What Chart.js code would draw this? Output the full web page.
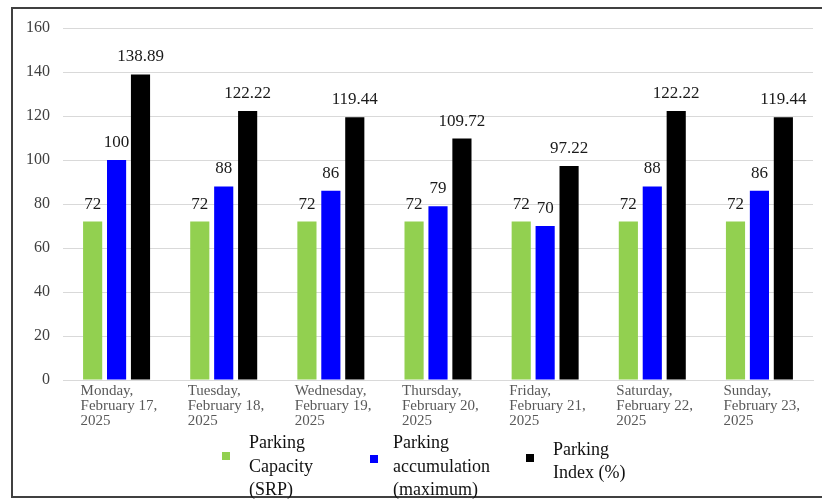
<!DOCTYPE html>
<html><head><meta charset="utf-8">
<script src="https://cdn.jsdelivr.net/npm/chart.js@4"></script>
<style>html,body{margin:0;padding:0;background:#fff}#wrap{width:822px;height:503px;position:relative}</style>
</head><body><div id="wrap"><canvas id="c" width="822" height="503"></canvas></div>
<script>
const days = [
  ["Monday,", "February 17,", "2025"],
  ["Tuesday,", "February 18,", "2025"],
  ["Wednesday,", "February 19,", "2025"],
  ["Thursday,", "February 20,", "2025"],
  ["Friday,", "February 21,", "2025"],
  ["Saturday,", "February 22,", "2025"],
  ["Sunday,", "February 23,", "2025"]
];
const seriesNames = [
  ["Parking", "Capacity", "(SRP)"],
  ["Parking", "accumulation", "(maximum)"],
  ["Parking", "Index (%)"]
];
const parkingCapacity = [72, 72, 72, 72, 72, 72, 72];
const parkingAccumulation = [100, 88, 86, 79, 70, 88, 86];
const parkingIndex = [138.89, 122.22, 119.44, 109.72, 97.22, 122.22, 119.44];
const yMin = 0, yMax = 160, yStep = 20;
const colors = ["#92D050", "#0000FF", "#000000"];

const SERIF = '"Liberation Serif", "Times New Roman", serif';

const framePlugin = {
  id: 'frame',
  beforeDraw(chart) {
    const ctx = chart.ctx;
    ctx.save();
    ctx.fillStyle = '#fff';
    ctx.fillRect(0, 0, chart.width, chart.height);
    ctx.strokeStyle = '#404040';
    ctx.lineWidth = 2;
    ctx.strokeRect(12, 8, chart.width + 10, 489);
    ctx.restore();
  }
};

const valueLabels = {
  id: 'valueLabels',
  afterDatasetsDraw(chart) {
    const ctx = chart.ctx;
    ctx.save();
    ctx.font = '17px ' + SERIF;
    ctx.fillStyle = '#1a1a1a';
    ctx.textAlign = 'center';
    ctx.textBaseline = 'bottom';
    chart.data.datasets.forEach((ds, di) => {
      const meta = chart.getDatasetMeta(di);
      meta.data.forEach((el, i) => {
        ctx.fillText(String(ds.data[i]), el.x, el.y - 9);
      });
    });
    ctx.restore();
  }
};

const customLegend = {
  id: 'customLegend',
  afterDraw(chart) {
    const ctx = chart.ctx;
    ctx.save();
    ctx.font = '18px ' + SERIF;
    const box = 8, lh = 23.5;
    const boxX = [222, 370, 526];
    const textX = [249, 393, 553];
    const boxCY = [456, 459, 458];
    chart.data.datasets.forEach((ds, i) => {
      const lines = seriesNames[i];
      ctx.fillStyle = ds.backgroundColor;
      ctx.fillRect(boxX[i], boxCY[i] - box / 2, box, box);
      ctx.fillStyle = '#111';
      ctx.textAlign = 'left';
      ctx.textBaseline = 'middle';
      const n = lines.length;
      const cy = n === 3 ? 467 : 462;
      lines.forEach((l, k) => {
        ctx.fillText(l, textX[i], cy + (k - (n - 1) / 2) * lh);
      });
    });
    ctx.restore();
  }
};

const seriesData = [parkingCapacity, parkingAccumulation, parkingIndex];

new Chart(document.getElementById('c'), {
  type: 'bar',
  data: {
    labels: days,
    datasets: seriesData.map((d, i) => ({
      label: seriesNames[i].join(' '),
      data: d,
      backgroundColor: colors[i],
      borderWidth: 0,
      categoryPercentage: 0.67,
      barPercentage: 0.8
    }))
  },
  options: {
    responsive: false,
    animation: false,
    devicePixelRatio: 1,
    layout: { padding: { top: 28, right: 9, bottom: 68, left: 0 } },
    plugins: { legend: { display: false }, tooltip: { enabled: false } },
    scales: {
      x: {
        grid: { display: false },
        border: { display: true, color: '#d9d9d9' },
        ticks: {
          font: { family: SERIF, size: 15, lineHeight: 1.0 },
          color: '#595959',
          align: 'start',
          labelOffset: -36,
          padding: -4,
          maxRotation: 0,
          autoSkip: false
        },
        afterFit(s) { s.height = 55; s.paddingLeft = 0; s.paddingRight = 0; }
      },
      y: {
        min: yMin, max: yMax,
        grid: { color: '#d9d9d9', drawTicks: false },
        border: { display: false },
        ticks: {
          stepSize: yStep,
          font: { family: SERIF, size: 16 },
          color: '#404040',
          padding: 13
        },
        afterFit(s) { s.width = 63; s.paddingTop = 0; s.paddingBottom = 0; }
      }
    }
  },
  plugins: [framePlugin, valueLabels, customLegend]
});
</script>
</body></html>
